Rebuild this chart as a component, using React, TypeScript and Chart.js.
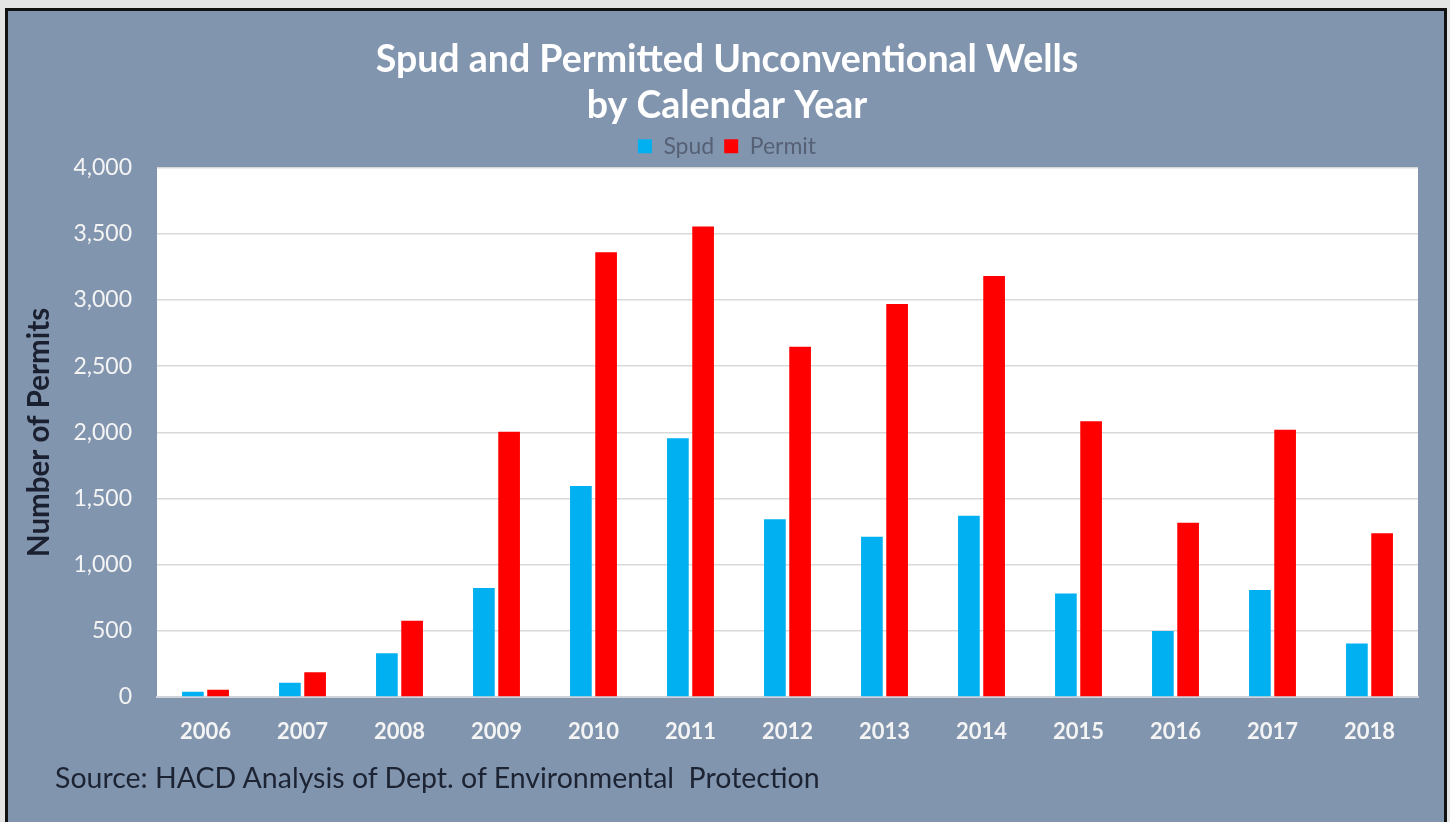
import React, { useEffect, useRef } from "react";
import { Chart, registerables } from "chart.js";

Chart.register(...registerables);

const years = ["2006", "2007", "2008", "2009", "2010", "2011", "2012", "2013", "2014", "2015", "2016", "2017", "2018"];
const spud = [40, 108, 330, 823, 1595, 1955, 1343, 1211, 1370, 783, 499, 808, 405];
const permit = [55, 187, 577, 2005, 3362, 3556, 2647, 2970, 3181, 2085, 1317, 2020, 1237];
const titleLines = ["Spud and Permitted Unconventional Wells", "by Calendar Year"];
const yAxisTitle = "Number of Permits";
const sourceText = "Source: HACD Analysis of Dept. of Environmental  Protection";
const yMin = 0;
const yMax = 4000;
const yStep = 500;

const FONT = "Lato, 'Noto Sans', sans-serif";

const areaBg = {
  id: "areaBg",
  beforeDraw(chart: any) {
    const { ctx, chartArea } = chart;
    if (!chartArea) return;
    ctx.save();
    ctx.fillStyle = "#ffffff";
    ctx.fillRect(chartArea.left, chartArea.top, chartArea.right - chartArea.left, chartArea.bottom - chartArea.top);
    ctx.restore();
  },
};

export default function App() {
  const ref = useRef<HTMLCanvasElement | null>(null);

  useEffect(() => {
    if (!ref.current) return;
    const chart = new Chart(ref.current, {
      type: "bar",
      data: {
        labels: years,
        datasets: [
          { label: "Spud", data: spud, backgroundColor: "#00B0F0", borderWidth: 0 },
          { label: "Permit", data: permit, backgroundColor: "#FF0000", borderWidth: 0 },
        ],
      },
      plugins: [areaBg],
      options: {
        responsive: false,
        animation: false,
        layout: { padding: { left: 36, right: 32, top: 0, bottom: 70 } },
        datasets: { bar: { categoryPercentage: 0.52, barPercentage: 0.86 } },
        plugins: {
          tooltip: { enabled: false },
          title: {
            display: true,
            text: titleLines,
            color: "#ffffff",
            font: { family: FONT, size: 37.5, weight: "bold", lineHeight: 1.25 },
            padding: { top: 36, bottom: -5 },
          },
          legend: {
            display: true,
            position: "top",
            labels: {
              color: "#566176",
              font: { family: FONT, size: 23 },
              boxWidth: 14,
              boxHeight: 14,
              padding: 10,
            },
          },
        },
        scales: {
          x: {
            grid: { display: false },
            border: { display: true, color: "#d0d4da", width: 2 },
            ticks: {
              color: "#f4f4f4",
              font: { family: FONT, size: 22, weight: "bold" },
              padding: 14,
            },
            afterFit: (s: any) => {
              s.height = 55;
            },
          },
          y: {
            min: yMin,
            max: yMax,
            grid: { color: "#d9d9d9", lineWidth: 1.5, drawTicks: false },
            border: { display: false },
            ticks: {
              stepSize: yStep,
              color: "#f4f4f4",
              font: { family: FONT, size: 23 },
              padding: 25,
            },
            title: {
              display: true,
              text: yAxisTitle,
              color: "#1b2030",
              font: { family: FONT, size: 29.5, weight: "bold" },
              padding: { top: -14, bottom: 0 },
            },
            afterFit: (s: any) => {
              s.width = 121;
            },
          },
        },
      },
    });
    return () => chart.destroy();
  }, []);

  return (
    <div style={{ position: "fixed", left: 0, top: 0, width: 1450, height: 822, background: "#e4e4e4", overflow: "hidden" }}>
      <div
        style={{
          position: "absolute",
          left: 5,
          top: 8,
          width: 1436,
          height: 830,
          border: "3px solid #111",
          background: "#8295AE",
        }}
      />
      <canvas ref={ref} width={1450} height={822} style={{ position: "absolute", left: 0, top: 0 }} />
      <div
        style={{
          position: "absolute",
          left: 55,
          top: 760,
          fontFamily: FONT,
          fontSize: 28.5,
          color: "#1c2333",
          whiteSpace: "pre",
        }}
      >
        {sourceText}
      </div>
    </div>
  );
}
